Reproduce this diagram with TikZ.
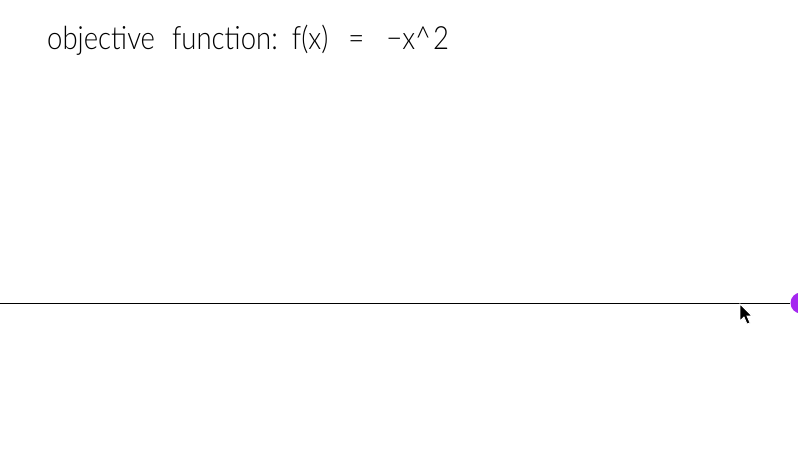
\documentclass[tikz,border=0pt]{standalone}
\usepackage{fontspec}
\setmainfont{Lato Light}[FakeStretch=0.86]
\usetikzlibrary{positioning}
\definecolor{dotpurple}{RGB}{165,40,240}

\begin{document}
\begin{tikzpicture}[x=1pt,y=-1pt,
  title/.style={anchor=base west,inner sep=0pt,font=\fontsize{32}{36}\selectfont},
  dot/.style={circle,fill=dotpurple,minimum size=21pt,inner sep=0pt}]
  \useasboundingbox[fill=white] (0,0) rectangle (798,470);
  \node[title] (objective) at (47,50) {objective\hspace{17pt}function:\hspace{14pt}f(x)\hspace{20pt}=\hspace{22pt}−x\textasciicircum\hspace{2pt}2};
  \coordinate (linestart) at (0,303);
  \node[dot] (point) at (801,303) {};
  \draw[thin] (linestart) -- (point);
  % mouse pointer
  \fill[black,draw=white,line width=0.8pt] (740,304) -- (740,321) -- (744,317) -- (747,324) -- (750,323) -- (747,316) -- (752,316) -- cycle;
\end{tikzpicture}
\end{document}
